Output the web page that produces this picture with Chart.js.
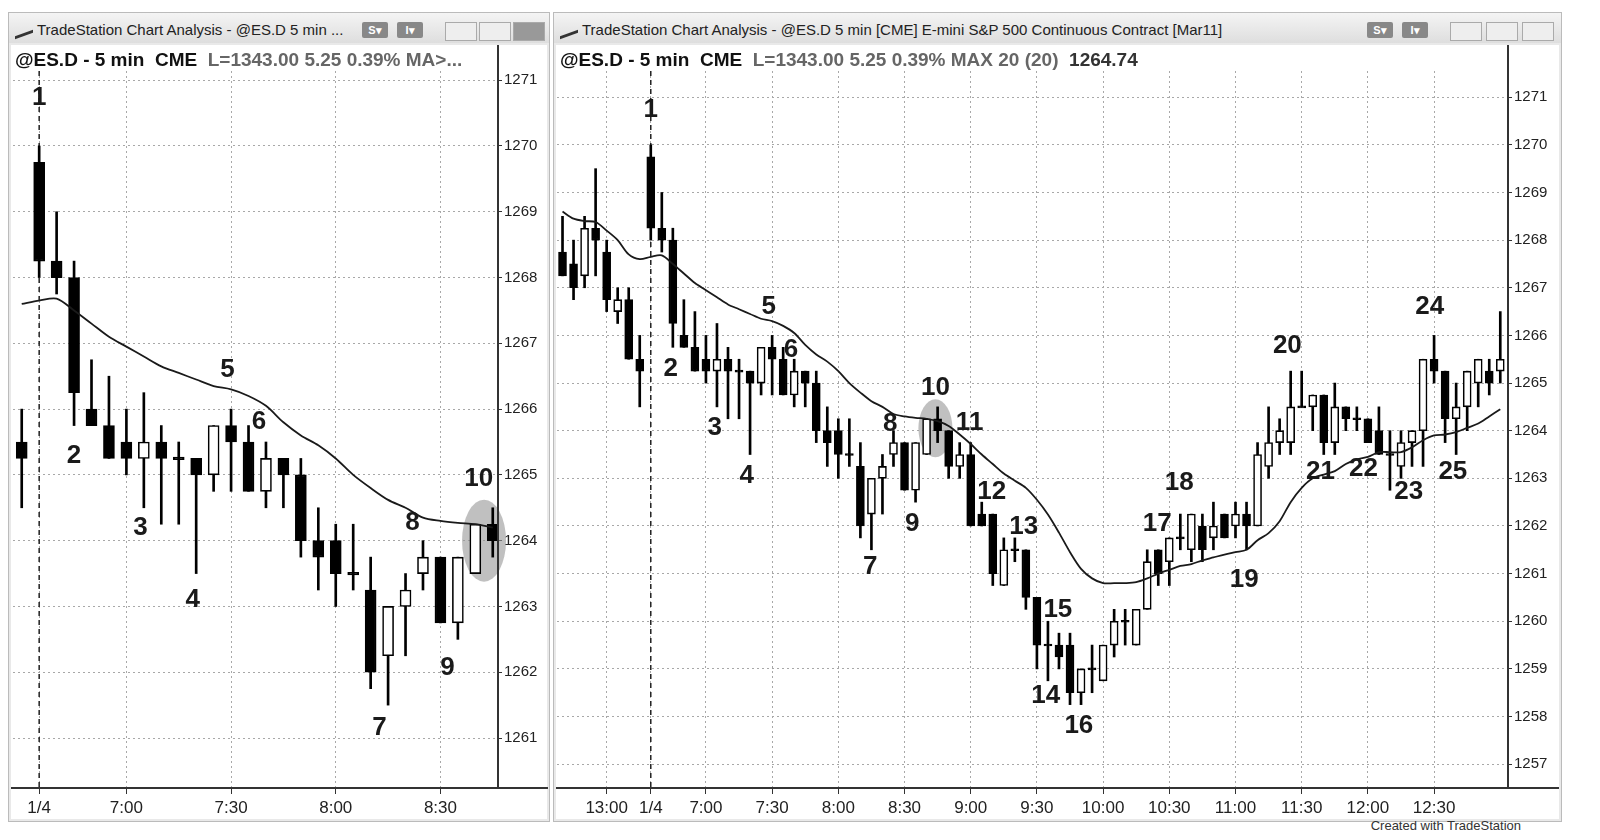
<!DOCTYPE html>
<html>
<head>
<meta charset="utf-8">
<script src="https://cdn.jsdelivr.net/npm/chart.js@4.4.1/dist/chart.umd.min.js"></script>
<style>
  body { margin: 0; width: 1600px; height: 840px; background: #fff; position: relative; overflow: hidden;
         font-family: "Liberation Sans Narrow", "Liberation Sans", Arial, sans-serif; }
  .win { position: absolute; top: 12px; height: 808px; background: #e9e9e9; border: 1px solid #bbb; }
  .bar { position: absolute; left: 0; right: 0; top: 0; height: 30px; background: linear-gradient(#f4f4f4, #dedede);
         font-size: 15px; color: #222; line-height: 34px; padding-left: 28px; white-space: nowrap; overflow: hidden; }
  .bar .logo { position: absolute; left: 6px; top: 12px; width: 18px; height: 8px; border-bottom: 3px solid #333; transform: skewY(-20deg); }
  .btn { position: absolute; top: 9px; height: 16px; background: #888; border-radius: 2px; color: #fff; font-size: 11px; line-height: 16px; text-align: center; font-weight: bold; }
  .wbtn { position: absolute; top: 9px; width: 30px; height: 17px; border: 1px solid #aaa; background: #eee; }
  .plot { position: absolute; top: 32px; left: 2px; bottom: 2px; right: 2px; background: #fff; }
  .hdr { position: absolute; left: 4px; top: 4px; font-size: 19px; font-weight: bold; color: #111; white-space: nowrap; z-index: 2; }
  .hdr .g { color: #666; }
  canvas { position: absolute; left: 0; top: 0; }
  .foot { position: absolute; right: 40px; bottom: -12px; font-size: 13px; color: #333; }
</style>
</head>
<body>
<div class="win" style="left:8px;width:540px;">
  <div class="bar"><div class="logo"></div>TradeStation Chart Analysis - @ES.D 5 min ...
    <div class="btn" style="left:353px;width:26px;">S▾</div>
    <div class="btn" style="left:388px;width:26px;">I▾</div>
    <div class="wbtn" style="left:436px;"></div><div class="wbtn" style="left:470px;"></div>
    <div class="wbtn" style="left:504px;background:#999;"></div>
  </div>
  <div class="plot">
    <div class="hdr">@ES.D - 5 min&nbsp; CME&nbsp; <span class="g">L=1343.00 5.25 0.39% MA&gt;...</span></div>
    <div style="position:absolute;left:0;top:0;width:537px;height:770px;"><canvas id="leftChart"></canvas></div>
  </div>
</div>
<div class="win" style="left:553px;width:1007px;">
  <div class="bar"><div class="logo"></div>TradeStation Chart Analysis - @ES.D 5 min [CME] E-mini S&amp;P 500 Continuous Contract [Mar11]
    <div class="btn" style="left:813px;width:26px;">S▾</div>
    <div class="btn" style="left:848px;width:26px;">I▾</div>
    <div class="wbtn" style="left:896px;"></div><div class="wbtn" style="left:932px;"></div><div class="wbtn" style="left:968px;"></div>
  </div>
  <div class="plot">
    <div class="hdr">@ES.D - 5 min&nbsp; CME&nbsp; <span class="g">L=1343.00 5.25 0.39% MAX 20 (20)</span>&nbsp; <span style="color:#333">1264.74</span></div>
    <div style="position:absolute;left:0;top:0;width:1003px;height:770px;"><canvas id="rightChart"></canvas></div>
  </div>
  <div class="foot">Created with TradeStation</div>
</div>
<script>
// right panel bars, index 0 = prior day 12:40, index 8 = 1/4 6:35
const opens = [1267.75,1267.5,1267.25,1268.25,1267.75,1266.5,1266.75,1265.5,1269.75,1268.25,
  1268.0,1266.0,1265.75,1265.5,1265.25,1265.5,1265.25,1265.25,1265.0,1265.75,
  1265.5,1264.75,1265.25,1265.0,1264.0,1264.0,1263.5,1263.25,1262.25,1263.0,
  1263.5,1263.75,1262.75,1263.5,1264.25,1264.0,1263.25,1263.5,1262.25,1262.25,
  1260.75,1261.5,1261.5,1260.5,1259.5,1259.5,1259.5,1258.5,1259.0,1258.75,
  1259.5,1260.0,1259.5,1260.25,1261.5,1261.25,1261.75,1261.5,1262.0,1261.75,
  1262.25,1262.0,1262.25,1262.0,1263.25,1263.75,1263.75,1264.5,1264.5,1264.75,
  1263.75,1264.5,1264.25,1264.25,1264.0,1263.5,1263.25,1263.75,1264.0,1265.5,
  1265.25,1264.25,1264.5,1265.0,1265.25,1265.25];
const highs = [1268.5,1268.0,1268.5,1269.5,1268.0,1267.0,1267.0,1266.0,1270.0,1269.0,
  1268.25,1266.75,1266.5,1266.0,1266.25,1265.75,1265.5,1265.25,1265.75,1266.0,
  1265.75,1265.5,1265.25,1265.25,1264.5,1264.25,1264.25,1263.75,1263.0,1263.5,
  1264.0,1263.75,1263.75,1264.25,1264.5,1264.0,1263.75,1263.75,1262.5,1262.25,
  1261.75,1261.75,1261.5,1260.5,1260.0,1259.75,1259.75,1259.0,1259.5,1259.5,
  1260.25,1260.25,1260.25,1261.5,1261.5,1261.75,1262.25,1262.25,1262.25,1262.5,
  1262.25,1262.5,1262.5,1263.75,1264.5,1264.25,1265.25,1265.25,1264.75,1264.75,
  1265.0,1264.5,1264.5,1264.25,1264.5,1264.0,1264.0,1264.0,1265.5,1266.0,
  1265.25,1265.0,1265.25,1265.5,1265.5,1266.5];
const lows = [1267.25,1266.75,1267.0,1267.25,1266.5,1266.25,1265.5,1264.5,1268.0,1267.75,
  1265.75,1265.75,1265.25,1265.0,1264.5,1264.25,1264.25,1263.5,1264.75,1264.75,
  1264.75,1264.5,1264.5,1263.75,1263.25,1263.0,1263.25,1261.75,1261.5,1262.25,
  1263.25,1262.75,1262.5,1263.5,1263.75,1263.0,1263.0,1262.0,1262.0,1260.75,
  1260.75,1261.25,1260.25,1259.0,1258.75,1259.0,1258.25,1258.25,1258.5,1258.75,
  1259.25,1259.5,1259.5,1260.25,1260.75,1260.75,1261.5,1261.25,1261.25,1261.5,
  1261.75,1261.75,1261.5,1262.0,1263.0,1263.5,1263.5,1264.5,1264.0,1263.5,
  1263.5,1264.0,1264.0,1263.75,1263.5,1262.75,1263.0,1263.25,1263.25,1265.0,
  1263.75,1263.5,1264.0,1264.5,1264.75,1265.0];
const closes = [1267.25,1267.0,1268.25,1268.0,1266.75,1266.75,1265.5,1265.25,1268.25,1268.0,
  1266.25,1265.75,1265.25,1265.25,1265.5,1265.25,1265.25,1265.0,1265.75,1265.5,
  1264.75,1265.25,1265.0,1264.0,1263.75,1263.5,1263.5,1262.0,1263.0,1263.25,
  1263.75,1262.75,1263.75,1264.25,1264.0,1263.25,1263.5,1262.0,1262.0,1261.0,
  1261.5,1261.5,1260.5,1259.5,1259.5,1259.25,1258.5,1259.0,1259.0,1259.5,
  1260.0,1260.0,1260.25,1261.25,1261.0,1261.75,1261.75,1262.25,1261.5,1262.0,
  1261.75,1262.25,1262.0,1263.5,1263.75,1264.0,1264.5,1264.5,1264.75,1263.75,
  1264.5,1264.25,1264.25,1263.75,1263.5,1263.5,1263.75,1264.0,1265.5,1265.25,
  1264.25,1264.5,1265.25,1265.5,1265.0,1265.5];
const maValues = [1268.6,1268.45,1268.4,1268.38,1268.2,1268.0,1267.7,
  1267.6,1267.65,1267.68,1267.5,1267.3,1267.1,1266.95,1266.8,1266.65,1266.55,1266.45,1266.35,1266.3,1266.2,
  1266.05,1265.8,1265.6,1265.45,1265.25,1265.0,1264.8,1264.62,1264.5,1264.35,1264.3,1264.27,1264.25,1264.2,
  1264.1,1263.92,1263.72,1263.5,1263.3,1263.1,1262.95,1262.8,
  1262.55,1262.24,1261.86,1261.45,1261.1,1260.9,1260.8,1260.8,1260.8,1260.82,1260.9,1261.0,1261.08,1261.16,
  1261.2,1261.28,1261.34,1261.4,1261.45,1261.5,1261.7,1261.85,1262.1,
  1262.5,1262.8,1263.0,1263.08,1263.15,1263.3,1263.4,1263.45,1263.55,1263.55,1263.55,1263.65,1263.8,
  1263.9,1263.92,1263.97,1264.06,1264.15,1264.3,1264.45];

// left panel shows right-panel bars 7..34
const leftStart = 7, leftEnd = 35;

const rightTickIdx = [4, 8, 13, 19, 25, 31, 37, 43, 49, 55, 61, 67, 73, 79];
const rightTickText = ["13:00", "1/4", "7:00", "7:30", "8:00", "8:30", "9:00", "9:30", "10:00", "10:30", "11:00", "11:30", "12:00", "12:30"];
const leftTickIdx = [1, 6, 12, 18, 24];
const leftTickText = ["1/4", "7:00", "7:30", "8:00", "8:30"];

const leftNotes = [[1,1270.73,"1"],[3,1265.29,"2"],[6.8,1264.2,"3"],[9.8,1263.1,"4"],[11.8,1266.6,"5"],
  [13.6,1265.8,"6"],[20.5,1261.15,"7"],[22.4,1264.27,"8"],[24.4,1262.06,"9"],[26.2,1264.94,"10"]];
const rightNotes = [[8,1270.73,"1"],[9.8,1265.29,"2"],[13.8,1264.07,"3"],[16.7,1263.06,"4"],[18.7,1266.59,"5"],
  [20.7,1265.7,"6"],[27.9,1261.15,"7"],[29.7,1264.15,"8"],[31.7,1262.05,"9"],[33.8,1264.9,"10"],
  [36.9,1264.17,"11"],[38.9,1262.72,"12"],[41.8,1261.99,"13"],[43.8,1258.44,"14"],[44.9,1260.24,"15"],
  [46.8,1257.8,"16"],[53.9,1262.05,"17"],[55.9,1262.9,"18"],[61.8,1260.87,"19"],[65.7,1265.79,"20"],
  [68.7,1263.14,"21"],[72.6,1263.2,"22"],[76.7,1262.72,"23"],[78.6,1266.59,"24"],[80.7,1263.14,"25"]];

const overlayPlugin = {
  id: "overlay",
  beforeDatasetsDraw(chart, args, o) {
    const { ctx, scales: { x, y }, chartArea } = chart;
    ctx.save();
    // highlight circle
    ctx.fillStyle = "rgba(150,150,150,0.6)";
    ctx.beginPath();
    ctx.ellipse(x.getPixelForValue(o.circle[0]), y.getPixelForValue(o.circle[1]), o.circle[2], o.circle[3], 0, 0, Math.PI * 2);
    ctx.fill();
    // day break
    const dx = x.getPixelForValue(o.dayBreak);
    ctx.strokeStyle = "#222";
    ctx.lineWidth = 1.5;
    ctx.setLineDash([5, 4]);
    ctx.beginPath();
    ctx.moveTo(dx, chartArea.top);
    ctx.lineTo(dx, chartArea.bottom);
    ctx.stroke();
    ctx.restore();
  },
  afterDatasetsDraw(chart, args, o) {
    const { ctx, scales: { x, y } } = chart;
    ctx.save();
    ctx.font = "bold 26px 'Liberation Sans', Arial, sans-serif";
    ctx.fillStyle = "#1a1a1a";
    ctx.textAlign = "center";
    ctx.textBaseline = "middle";
    o.notes.forEach(([i, p, t]) => ctx.fillText(t, x.getPixelForValue(i), y.getPixelForValue(p)));
    ctx.restore();
  },
};

function makeChart(canvasId, from, to, cfg) {
  const idx = [];
  for (let i = from; i < to; i++) idx.push(i - from);
  const o = opens.slice(from, to), h = highs.slice(from, to), l = lows.slice(from, to), c = closes.slice(from, to);
  const wicks = idx.map((i) => ({ x: i, y: [l[i], h[i]] }));
  const bodies = idx.map((i) => {
    const a = Math.min(o[i], c[i]), b = Math.max(o[i], c[i]);
    return { x: i, y: b - a < 0.05 ? [a - 0.02, a + 0.02] : [a, b] };
  });
  const bodyFill = idx.map((i) => (c[i] > o[i] ? "#ffffff" : "#000000"));
  const ma = idx.map((i) => ({ x: i, y: maValues[from + i] }));
  const tickMap = {};
  cfg.tickIdx.forEach((v, k) => (tickMap[v] = cfg.tickText[k]));
  const dotted = { color: "#a8a8a8", lineWidth: 1, tickLength: 6, tickColor: "#333", offset: false };

  return new Chart(document.getElementById(canvasId), {
    type: "bar",
    data: {
      datasets: [
        { type: "line", data: ma, borderColor: "#1a1a1a", borderWidth: 1.8, pointRadius: 0, tension: 0.3, order: 1 },
        { data: bodies, backgroundColor: bodyFill, borderColor: "#000", borderWidth: 1.6, borderSkipped: false,
          barThickness: cfg.bodyW, grouped: false, order: 2 },
        { data: wicks, backgroundColor: "#000", barThickness: 2, grouped: false, order: 3 },
      ],
    },
    options: {
      responsive: true,
      maintainAspectRatio: false,
      animation: false,
      layout: { padding: { top: 26, left: cfg.padLeft, right: 0, bottom: 0 } },
      plugins: {
        legend: { display: false },
        tooltip: { enabled: false },
        overlay: { notes: cfg.notes, circle: cfg.circle, dayBreak: cfg.dayBreak },
      },
      scales: {
        x: {
          type: "linear",
          min: cfg.xMin,
          max: cfg.xMax,
          offset: false,
          afterBuildTicks: (s) => { s.ticks = cfg.tickIdx.map((v) => ({ value: v })); },
          afterFit: (s) => { s.height = 27; },
          ticks: { autoSkip: false, maxRotation: 0, padding: 4, color: "#222",
                   font: { size: 17, family: "'Liberation Sans Narrow', 'Liberation Sans', sans-serif" },
                   callback: (v) => tickMap[v] || "" },
          grid: { ...dotted },
          border: { display: true, color: "#333", width: 2, dash: [2, 3] },
        },
        y: {
          position: "right",
          min: cfg.yMin,
          max: cfg.yMax,
          afterBuildTicks: (s) => {
            const t = [];
            for (let v = Math.ceil(s.min); v <= Math.floor(s.max); v++) t.push({ value: v });
            s.ticks = t;
          },
          afterFit: (s) => { s.width = cfg.yW; },
          ticks: { padding: 2, color: "#222",
                   font: { size: 15, family: "'Liberation Sans Narrow', 'Liberation Sans', sans-serif" },
                   callback: (v) => String(v) },
          grid: { ...dotted, tickLength: 4 },
          border: { display: true, color: "#333", width: 2, dash: [2, 3] },
        },
      },
    },
    plugins: [overlayPlugin, {
      id: "frame",
      afterDraw(chart) {
        const { ctx, chartArea: a } = chart;
        ctx.save();
        ctx.strokeStyle = "#333";
        ctx.lineWidth = 2;
        ctx.beginPath();
        ctx.moveTo(a.right, a.top - 26);
        ctx.lineTo(a.right, a.bottom);
        ctx.moveTo(0, a.bottom);
        ctx.lineTo(chart.width, a.bottom);
        ctx.stroke();
        ctx.restore();
      },
    }],
  });
}

makeChart("leftChart", leftStart, leftEnd, {
  tickIdx: leftTickIdx, tickText: leftTickText, notes: leftNotes,
  circle: [26.5, 1264.0, 22, 41], dayBreak: 1,
  xMin: -0.5, xMax: 27.3, yMin: 1260.24, yMax: 1271.14, yW: 50, padLeft: 2, bodyW: 11,
});

makeChart("rightChart", 0, opens.length, {
  tickIdx: rightTickIdx, tickText: rightTickText, notes: rightNotes,
  circle: [33.8, 1264.05, 17, 29], dayBreak: 8,
  xMin: -0.5, xMax: 85.7, yMin: 1256.5, yMax: 1271.55, yW: 51, padLeft: 1, bodyW: 8,
});
</script>
</body>
</html>
